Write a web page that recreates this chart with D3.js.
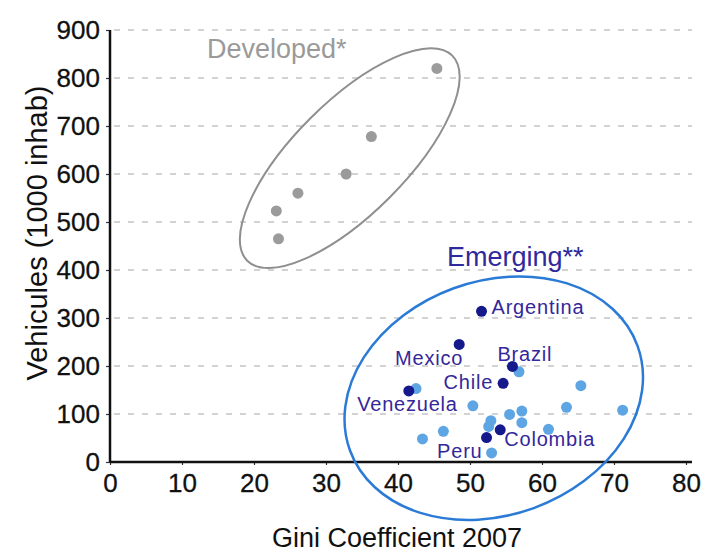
<!DOCTYPE html>
<html lang="en">
<head>
  <meta charset="UTF-8">
  <title>Gini vs vehicules</title>
  <script src="https://cdn.jsdelivr.net/npm/d3@7"></script>
  <style>
    body { margin: 0; background: #fff; }
    svg text { font-family: "Liberation Sans", Arial, sans-serif; }
  </style>
</head>
<body>
  <script>
    // developed countries (grey)
    var developedGini = [23.1, 23.4, 26.1, 32.8, 36.3, 45.4]
    var developedVeh = [523, 465, 560, 600, 678, 820]

    // labelled emerging countries (dark blue)
    var emergingNames = ['Argentina', 'Mexico', 'Brazil', 'Chile', 'Venezuela', 'Colombia', 'Peru']
    var emergingGini = [51.6, 48.5, 55.9, 54.6, 41.5, 54.2, 52.3]
    var emergingVeh = [314, 245, 199, 164, 148, 67, 51]

    // other emerging countries (light blue)
    var otherGini = [42.5, 56.8, 50.4, 65.4, 71.2, 63.4, 57.2, 55.5, 57.2, 52.9, 52.6, 60.9, 46.3, 43.4, 53.0]
    var otherVeh = [153, 188, 117, 159, 108, 114, 106, 99, 82, 86, 74, 68, 64, 48, 19]

    var xTicks = [0, 10, 20, 30, 40, 50, 60, 70, 80]
    var yTicks = [0, 100, 200, 300, 400, 500, 600, 700, 800, 900]

    var w = 721, h = 556
    var x = d3.scaleLinear().domain([0, 80]).range([110, 686])
    var y = d3.scaleLinear().domain([0, 900]).range([462, 30])

    var svg = d3.select('body').append('svg').attr('width', w).attr('height', h)

    // dashed gridlines
    svg.append('g').selectAll('line').data(yTicks.slice(1)).enter().append('line')
      .attr('x1', x(0) + 4).attr('x2', x(80) + 6)
      .attr('y1', function (d) { return y(d) }).attr('y2', function (d) { return y(d) })
      .attr('stroke', '#c4c4c4').attr('stroke-width', 1.6).attr('stroke-dasharray', '6,8')

    // axes
    var xAxis = d3.axisBottom(x).tickValues(xTicks).tickSize(3).tickPadding(9)
    var yAxis = d3.axisLeft(y).tickValues(yTicks).tickSize(4).tickPadding(6)
    var gx = svg.append('g').attr('transform', 'translate(0,' + y(0) + ')').call(xAxis)
    var gy = svg.append('g').attr('transform', 'translate(' + x(0) + ',0)').call(yAxis)
    gx.select('.domain').remove()
    gy.select('.domain').remove()
    svg.append('line').attr('x1', x(0)).attr('x2', x(80) + 6).attr('y1', y(0)).attr('y2', y(0))
      .attr('stroke', '#111').attr('stroke-width', 2.5)
    svg.append('line').attr('x1', x(0)).attr('x2', x(0)).attr('y1', y(900)).attr('y2', y(0))
      .attr('stroke', '#111').attr('stroke-width', 2.5)
    svg.selectAll('.tick line').attr('stroke', '#333').attr('stroke-width', 1.2)
    svg.selectAll('.tick text').attr('font-size', '26px').attr('fill', '#111')
      .attr('stroke', '#111').attr('stroke-width', 0.3)
      .style('font-family', '"Liberation Sans", Arial, sans-serif')

    // axis titles
    svg.append('text').attr('x', 397).attr('y', 547).attr('text-anchor', 'middle')
      .attr('font-size', '27px').attr('fill', '#111').text('Gini Coefficient 2007')
    svg.append('text').attr('transform', 'translate(47,233) rotate(-90)').attr('text-anchor', 'middle')
      .attr('font-size', '29px').attr('fill', '#111').text('Vehicules (1000 inhab)')

    // group ellipses
    svg.append('ellipse').attr('cx', 0).attr('cy', 0).attr('rx', 145).attr('ry', 56)
      .attr('transform', 'translate(' + x(33.3) + ',' + y(633) + ') rotate(-45)')
      .attr('fill', 'none').attr('stroke', '#8f8f8f').attr('stroke-width', 2)
    svg.append('ellipse').attr('cx', 0).attr('cy', 0).attr('rx', 153).attr('ry', 117)
      .attr('transform', 'translate(' + x(53.3) + ',' + y(133) + ') rotate(-20)')
      .attr('fill', 'none').attr('stroke', '#2b7bd6').attr('stroke-width', 2.5)

    // group labels
    svg.append('text').attr('x', 207).attr('y', 58).attr('font-size', '27px')
      .attr('fill', '#9a9a9a').text('Developed*')
    svg.append('text').attr('x', 447).attr('y', 266).attr('font-size', '27px')
      .attr('fill', '#2f2a9c').text('Emerging**')

    // points
    svg.append('g').selectAll('circle').data(developedGini).enter().append('circle')
      .attr('cx', function (d) { return x(d) })
      .attr('cy', function (d, i) { return y(developedVeh[i]) })
      .attr('r', 5.5).attr('fill', '#9b9b9b')
    svg.append('g').selectAll('circle').data(otherGini).enter().append('circle')
      .attr('cx', function (d) { return x(d) })
      .attr('cy', function (d, i) { return y(otherVeh[i]) })
      .attr('r', 5.5).attr('fill', '#5ea5e4')
    svg.append('g').selectAll('circle').data(emergingGini).enter().append('circle')
      .attr('cx', function (d) { return x(d) })
      .attr('cy', function (d, i) { return y(emergingVeh[i]) })
      .attr('r', 5.5).attr('fill', '#16198c')

    // country labels, offset from each point
    var labelOffset = {
      Argentina: [10, -4, 'start'], Mexico: [4, 14, 'end'], Brazil: [-15, -12, 'start'],
      Chile: [-10, -1, 'end'], Venezuela: [49, 13, 'end'], Colombia: [4, 9, 'start'], Peru: [-4, 13, 'end']
    }
    svg.append('g').selectAll('text').data(emergingNames).enter().append('text')
      .attr('x', function (d, i) { return x(emergingGini[i]) + labelOffset[d][0] })
      .attr('y', function (d, i) { return y(emergingVeh[i]) + labelOffset[d][1] })
      .attr('dy', '0.35em').attr('text-anchor', function (d) { return labelOffset[d][2] })
      .attr('font-size', '20px').attr('letter-spacing', '0.8px').attr('fill', '#35279a')
      .text(function (d) { return d })
  </script>
</body>
</html>
